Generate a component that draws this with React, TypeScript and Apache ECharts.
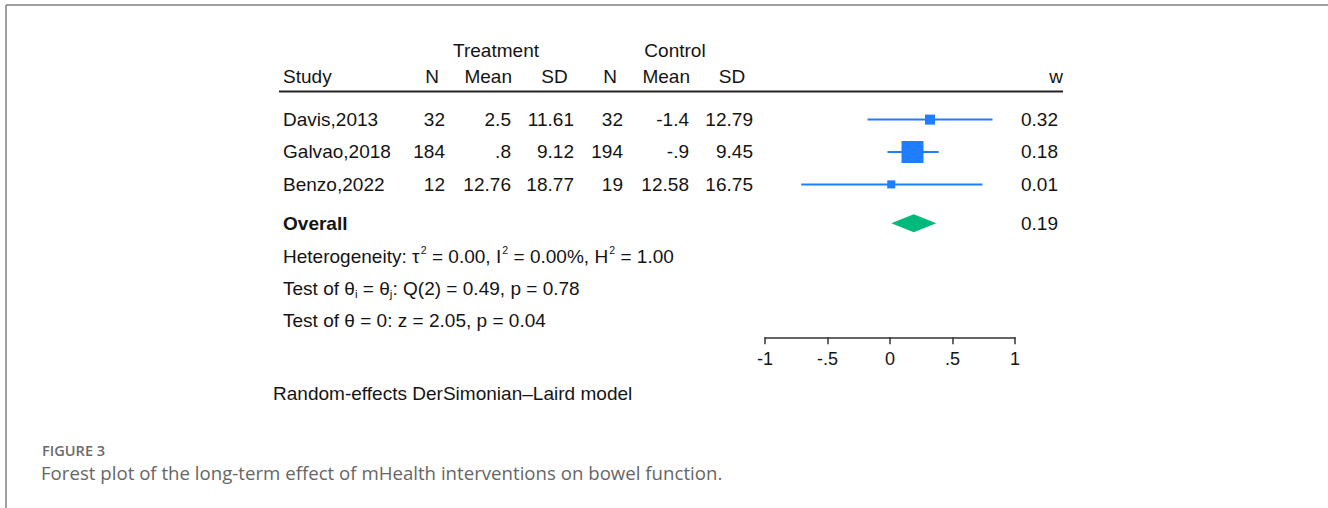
import React, { useEffect, useRef } from "react";
import * as echarts from "echarts";

// ---------- data ----------
const studies = ["Davis,2013", "Galvao,2018", "Benzo,2022"];
const treatN = ["32", "184", "12"];
const treatMean = ["2.5", ".8", "12.76"];
const treatSD = ["11.61", "9.12", "18.77"];
const ctrlN = ["32", "194", "19"];
const ctrlMean = ["-1.4", "-.9", "12.58"];
const ctrlSD = ["12.79", "9.45", "16.75"];
const wLabels = ["0.32", "0.18", "0.01"];
const effect = [0.32, 0.18, 0.01];
const ciLow = [-0.18, -0.02, -0.71];
const ciHigh = [0.82, 0.39, 0.74];
const studyWeight = [15.5, 74.5, 10]; // relative weights (box area)
const overallEffect = [0.19];
const overallLow = [0.01];
const overallHigh = [0.37];
const overallW = ["0.19"];
const tickValues = [-1, -0.5, 0, 0.5, 1];
const tickLabels = ["-1", "-.5", "0", ".5", "1"];

// ---------- layout ----------
const FONT = "Liberation Sans, Arial, sans-serif";
const TXT = "#141414";
const BLUE = "#1f7eff";
const GREEN = "#00b97a";
const ROW_H = 32.4;
const Y_MIN = -1;
const Y_MAX = 6.72;
const GRID_TOP = 87.2;
const OVERALL_ROW = 3.2;
const STAT_ROWS = [4.22, 5.22, 6.22];
const SX = 1.058;
const rowPx = (r: number) => GRID_TOP + (r - Y_MIN) * ROW_H;

function txt(text: string, x: number, y: number, align: string, extra: any = {}, scaleX = SX) {
  return {
    type: "text",
    x,
    y,
    scaleX,
    silent: true,
    style: {
      text,
      fontSize: 18,
      fontFamily: FONT,
      fill: TXT,
      align,
      verticalAlign: "middle",
      textAlign: align,
      textVerticalAlign: "middle",
      ...extra,
    },
  };
}

export default function App() {
  const ref = useRef<HTMLDivElement>(null);

  useEffect(() => {
    if (!ref.current) return;
    const chart = echarts.init(ref.current, null, { renderer: "svg" });

    const boxScale = 22 / Math.sqrt(Math.max(...studyWeight));

    const graphics: any[] = [];
    // frame
    graphics.push({ type: "line", shape: { x1: 6, y1: 5, x2: 1328, y2: 5 }, style: { stroke: "#808080", lineWidth: 1.5 } });
    graphics.push({ type: "line", shape: { x1: 6, y1: 5, x2: 6, y2: 508 }, style: { stroke: "#808080", lineWidth: 1.5 } });
    // header
    graphics.push(txt("Treatment", 496, 51, "center"));
    graphics.push(txt("Control", 675, 51, "center"));
    graphics.push(txt("Study", 283, 77, "left"));
    graphics.push(txt("N", 432, 77, "center"));
    graphics.push(txt("Mean", 512, 77, "right"));
    graphics.push(txt("SD", 554.5, 77, "center"));
    graphics.push(txt("N", 610, 77, "center"));
    graphics.push(txt("Mean", 690, 77, "right"));
    graphics.push(txt("SD", 732, 77, "center"));
    graphics.push(txt("w", 1063, 77, "right"));
    graphics.push({ type: "line", shape: { x1: 279, y1: 91.5, x2: 1063, y2: 91.5 }, style: { stroke: "#222", lineWidth: 2 } });
    // rows
    studies.forEach((s, i) => {
      const y = rowPx(i);
      graphics.push(txt(s, 283, y, "left"));
      graphics.push(txt(treatN[i], 445, y, "right"));
      graphics.push(txt(treatMean[i], 511, y, "right"));
      graphics.push(txt(treatSD[i], 574, y, "right"));
      graphics.push(txt(ctrlN[i], 623, y, "right"));
      graphics.push(txt(ctrlMean[i], 689, y, "right"));
      graphics.push(txt(ctrlSD[i], 753, y, "right"));
      graphics.push(txt(wLabels[i], 1021, y, "left"));
    });
    graphics.push(txt("Overall", 283, rowPx(OVERALL_ROW), "left", { fontWeight: "bold" }));
    graphics.push(txt(overallW[0], 1021, rowPx(OVERALL_ROW), "left"));
    const sup = { fontSize: 10, fontFamily: FONT, fill: TXT, verticalAlign: "top", lineHeight: 22, padding: [0, 0, 0, 1] };
    const sub = { fontSize: 11, fontFamily: FONT, fill: TXT, verticalAlign: "bottom", lineHeight: 22 };
    const norm = { fontSize: 18, fontFamily: FONT, fill: TXT, lineHeight: 22 };
    graphics.push(
      txt("{n|Heterogeneity: τ}{sup|2}{n| = 0.00, I}{sup|2}{n| = 0.00%, H}{sup|2}{n| = 1.00}", 283, rowPx(STAT_ROWS[0]), "left", {
        rich: { n: norm, sup },
      })
    );
    graphics.push(
      txt("{n|Test of θ}{sub|i}{n| = θ}{sub|j}{n|: Q(2) = 0.49, p = 0.78}", 283, rowPx(STAT_ROWS[1]), "left", {
        rich: { n: norm, sub },
      })
    );
    graphics.push(txt("Test of θ = 0: z = 2.05, p = 0.04", 283, rowPx(STAT_ROWS[2]), "left"));
    graphics.push(txt("Random-effects DerSimonian–Laird model", 273, 394, "left"));
    // caption
    graphics.push(
      txt("FIGURE 3", 42, 451, "left", { fontSize: 13.5, fontFamily: "Open Sans, sans-serif", fill: "#6a6a6a", fontWeight: 600 }, 1.08)
    );
    graphics.push(
      txt(
        "Forest plot of the long-term effect of mHealth interventions on bowel function.",
        41,
        473,
        "left",
        { fontSize: 17.5, fontFamily: "Open Sans, sans-serif", fill: "#666666" },
        1.066
      )
    );

    const ciSeries = studies.map((s, i) => ({
      type: "line",
      name: s,
      data: [
        [ciLow[i], i],
        [ciHigh[i], i],
      ],
      symbol: "none",
      lineStyle: { color: BLUE, width: 2 },
      silent: true,
      z: 2,
    }));

    const option: any = {
      animation: false,
      backgroundColor: "#ffffff",
      grid: {
        left: 765,
        right: 1328 - 1015,
        top: GRID_TOP,
        height: (Y_MAX - Y_MIN) * ROW_H,
        containLabel: false,
        outerBoundsMode: "none",
      },
      xAxis: {
        type: "value",
        min: -1,
        max: 1,
        interval: 0.5,
        splitLine: { show: false },
        axisLine: { show: true, onZero: false, lineStyle: { color: "#333", width: 1.5 } },
        axisTick: { show: true, length: 7, lineStyle: { color: "#333", width: 1.5 } },
        axisLabel: {
          margin: 13,
          fontSize: 18,
          fontFamily: FONT,
          color: TXT,
          formatter: (v: number) => {
            const k = tickValues.findIndex((t) => Math.abs(t - v) < 1e-9);
            return k >= 0 ? tickLabels[k] : "";
          },
        },
      },
      yAxis: {
        type: "value",
        inverse: true,
        min: Y_MIN,
        max: Y_MAX,
        show: false,
      },
      series: [
        ...ciSeries,
        {
          type: "scatter",
          data: studies.map((_, i) => [effect[i], i, studyWeight[i]]),
          symbol: "rect",
          symbolSize: (v: number[]) => Math.sqrt(v[2]) * boxScale,
          itemStyle: { color: BLUE, opacity: 1 },
          silent: true,
          z: 3,
        },
        {
          type: "custom",
          data: overallEffect.map((e, i) => [overallLow[i], e, overallHigh[i], OVERALL_ROW]),
          dimensions: ["lo", "est", "hi", "row"],
          encode: { x: 1, y: 3 },
          clip: false,
          silent: true,
          renderItem: (params: any, api: any) => {
            const lo = api.value(0);
            const est = api.value(1);
            const hi = api.value(2);
            const row = api.value(3);
            const pLo = api.coord([lo, row]);
            const pHi = api.coord([hi, row]);
            const pE = api.coord([est, row]);
            const h = 9;
            return {
              type: "polygon",
              shape: {
                points: [
                  [pLo[0], pLo[1]],
                  [pE[0], pE[1] - h],
                  [pHi[0], pHi[1]],
                  [pE[0], pE[1] + h],
                ],
              },
              style: { fill: GREEN },
            };
          },
        },
      ],
      graphic: { elements: graphics },
    };

    chart.setOption(option);
    return () => chart.dispose();
  }, []);

  return (
    <div
      ref={ref}
      style={{ position: "fixed", left: 0, top: 0, width: 1328, height: 508, background: "#fff" }}
    />
  );
}
